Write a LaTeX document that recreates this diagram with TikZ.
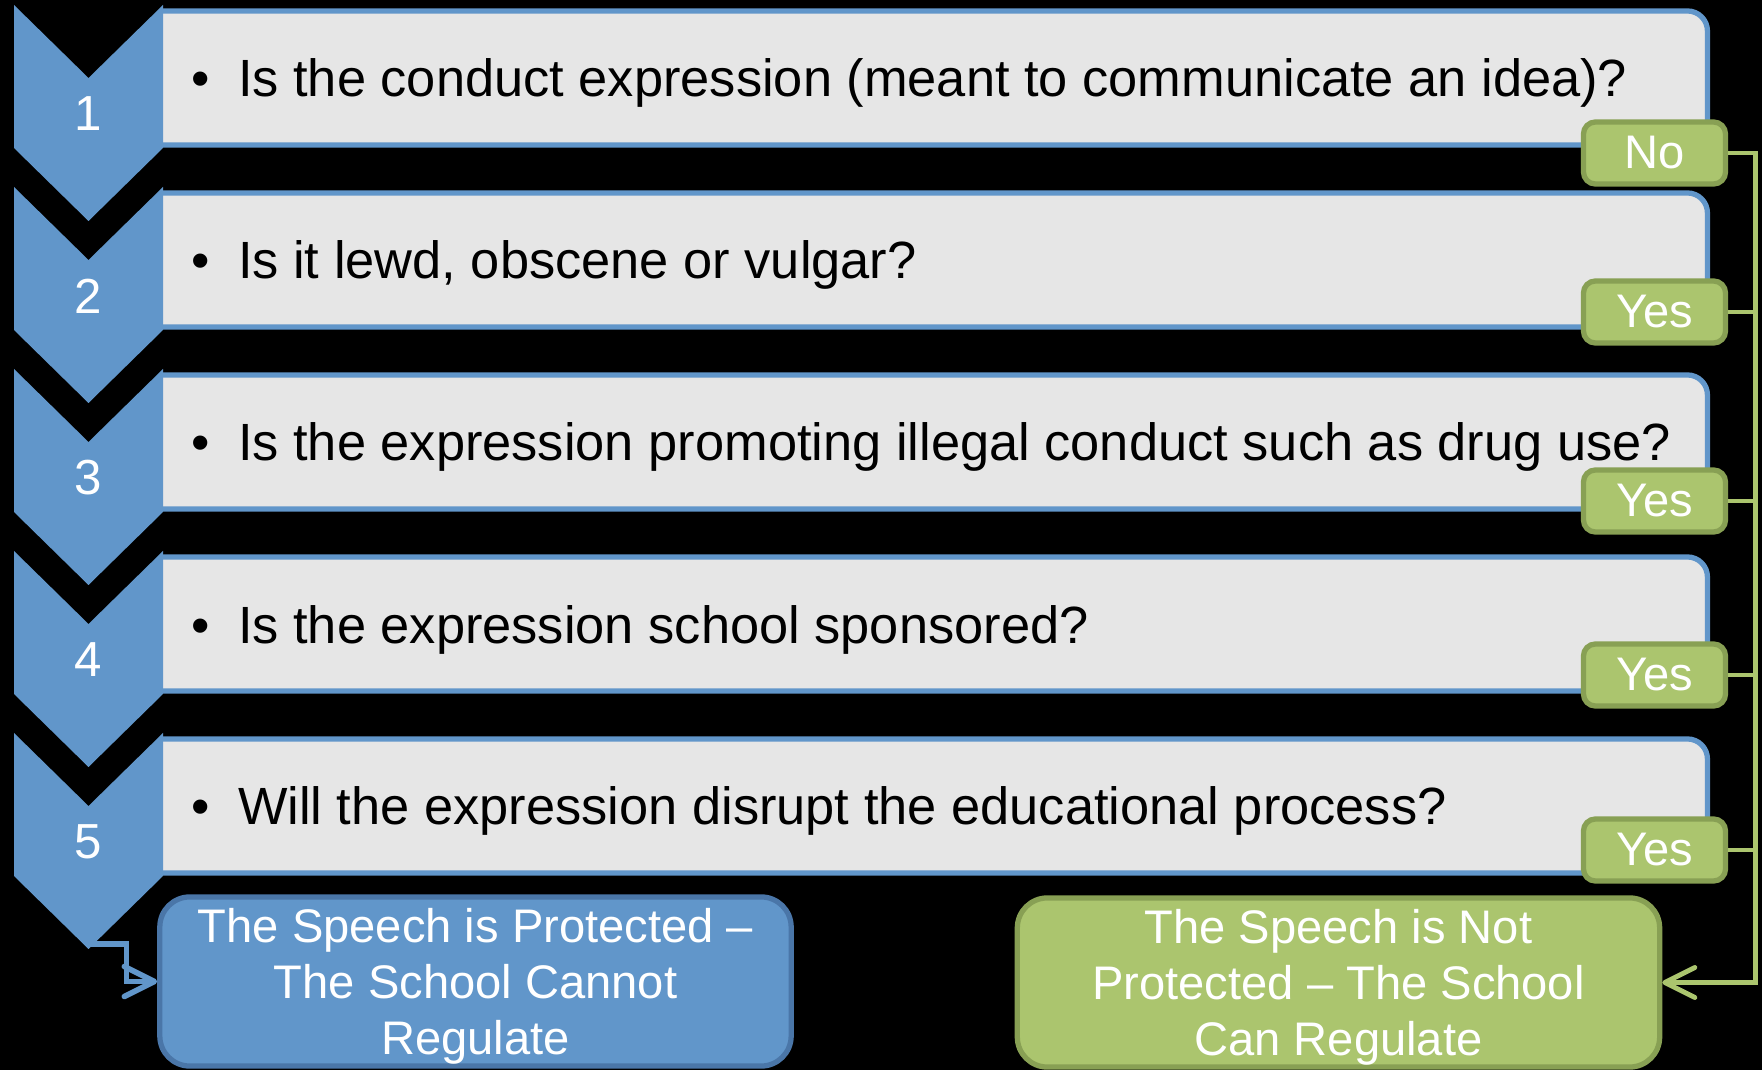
\documentclass[tikz,border=0pt]{standalone}
\usepackage{fontspec}
\setmainfont{Liberation Sans}
\usetikzlibrary{arrows.meta}
\definecolor{chevblue}{RGB}{97,150,202}
\definecolor{qgray}{RGB}{230,230,230}
\definecolor{taggreen}{RGB}{171,197,110}
\definecolor{tagdark}{RGB}{136,160,84}
\definecolor{protdark}{RGB}{74,118,168}
\begin{document}
\begin{tikzpicture}[x=0.01cm,y=-0.01cm,>={Straight Barb[length=3mm,width=3mm,round]},
  chev/.style={fill=chevblue},
  qbox/.style={draw=chevblue,fill=qgray,line width=1.5pt,rounded corners=2mm,
    minimum width=15.87cm,minimum height=1.34cm},
  qtext/.style={anchor=base west,inner sep=0pt,font=\fontsize{14.9}{18}\selectfont},
  num/.style={text=white,inner sep=0pt,font=\fontsize{14}{17}\selectfont},
  tag/.style={draw=tagdark,fill=taggreen,line width=1.5pt,rounded corners=1.2mm,
    minimum width=1.42cm,minimum height=0.62cm,text=white,inner sep=0pt,
    font=\fontsize{13.4}{16}\selectfont},
  endbox/.style={line width=1.5pt,rounded corners=3mm,minimum height=1.69cm,
    text=white,align=center,text depth=0pt,inner sep=0pt,
    font=\fontsize{13.4}{15.9}\selectfont},
  gline/.style={draw=taggreen,line width=1.4pt},
  bline/.style={draw=chevblue,line width=1.6pt}]
  \path[use as bounding box,fill=black] (0,0) rectangle (1762,1070);

  % question boxes, left ends hidden under the chevrons
  \begin{scope}
    \clip (163,0) rectangle (1762,1070);
    \node[qbox] (b1) at (913.5,78) {};
    \node[qbox] (b2) at (913.5,260) {};
    \node[qbox] (b3) at (913.5,442) {};
    \node[qbox] (b4) at (913.5,624) {};
    \node[qbox] (b5) at (913.5,806) {};
  \end{scope}

  % chevrons
  \fill[chev] (14,5) -- ++(74.5,73) -- ++(74.5,-73) -- ++(0,143) -- ++(-74.5,73) -- ++(-74.5,-73) -- cycle;
  \fill[chev] (14,187) -- ++(74.5,73) -- ++(74.5,-73) -- ++(0,143) -- ++(-74.5,73) -- ++(-74.5,-73) -- cycle;
  \fill[chev] (14,369) -- ++(74.5,73) -- ++(74.5,-73) -- ++(0,143) -- ++(-74.5,73) -- ++(-74.5,-73) -- cycle;
  \fill[chev] (14,551) -- ++(74.5,73) -- ++(74.5,-73) -- ++(0,143) -- ++(-74.5,73) -- ++(-74.5,-73) -- cycle;
  \fill[chev] (14,733) -- ++(74.5,73) -- ++(74.5,-73) -- ++(0,143) -- ++(-74.5,73) -- ++(-74.5,-73) -- cycle;
  \coordinate (c5) at (88.5,944);

  \node[num] (n1) at (88.5,114) {1};
  \node[num] (n2) at (88.5,296) {2};
  \node[num] (n3) at (88.5,478) {3};
  \node[num] (n4) at (88.5,660) {4};
  \node[num] (n5) at (88.5,842) {5};

  \node[qtext] (q1) at (191,97) {\textbullet\hspace{0.28cm}Is the conduct expression (meant to communicate an idea)?};
  \node[qtext] (q2) at (191,279) {\textbullet\hspace{0.28cm}Is it lewd, obscene or vulgar?};
  \node[qtext] (q3) at (191,461) {\textbullet\hspace{0.28cm}Is the expression promoting illegal conduct such as drug use?};
  \node[qtext] (q4) at (191,643) {\textbullet\hspace{0.28cm}Is the expression school sponsored?};
  \node[qtext] (q5) at (191,825) {\textbullet\hspace{0.28cm}Will the expression disrupt the educational process?};

  % answers
  \node[tag] (t1) at (1654.5,153) {No};
  \node[tag] (t2) at (1654.5,312) {Yes};
  \node[tag] (t3) at (1654.5,501) {Yes};
  \node[tag] (t4) at (1654.5,675) {Yes};
  \node[tag] (t5) at (1654.5,850) {Yes};

  \node[endbox,draw=protdark,fill=chevblue,minimum width=6.31cm] (protect) at (475.5,981.5)
    {The Speech is Protected –\\The School Cannot\\Regulate};
  \node[endbox,draw=tagdark,fill=taggreen,minimum width=6.42cm] (canreg) at (1338.5,982.5)
    {The Speech is Not\\Protected – The School\\Can Regulate};

  % connectors
  \draw[bline,->] (c5) -- ++(38,0) |- (protect.west);
  \draw[gline,->] (t1.east) -- ++(27,0) |- (canreg.east);
  \draw[gline] (t2.east) -- ++(27,0);
  \draw[gline] (t3.east) -- ++(27,0);
  \draw[gline] (t4.east) -- ++(27,0);
  \draw[gline] (t5.east) -- ++(27,0);
\end{tikzpicture}
\end{document}
